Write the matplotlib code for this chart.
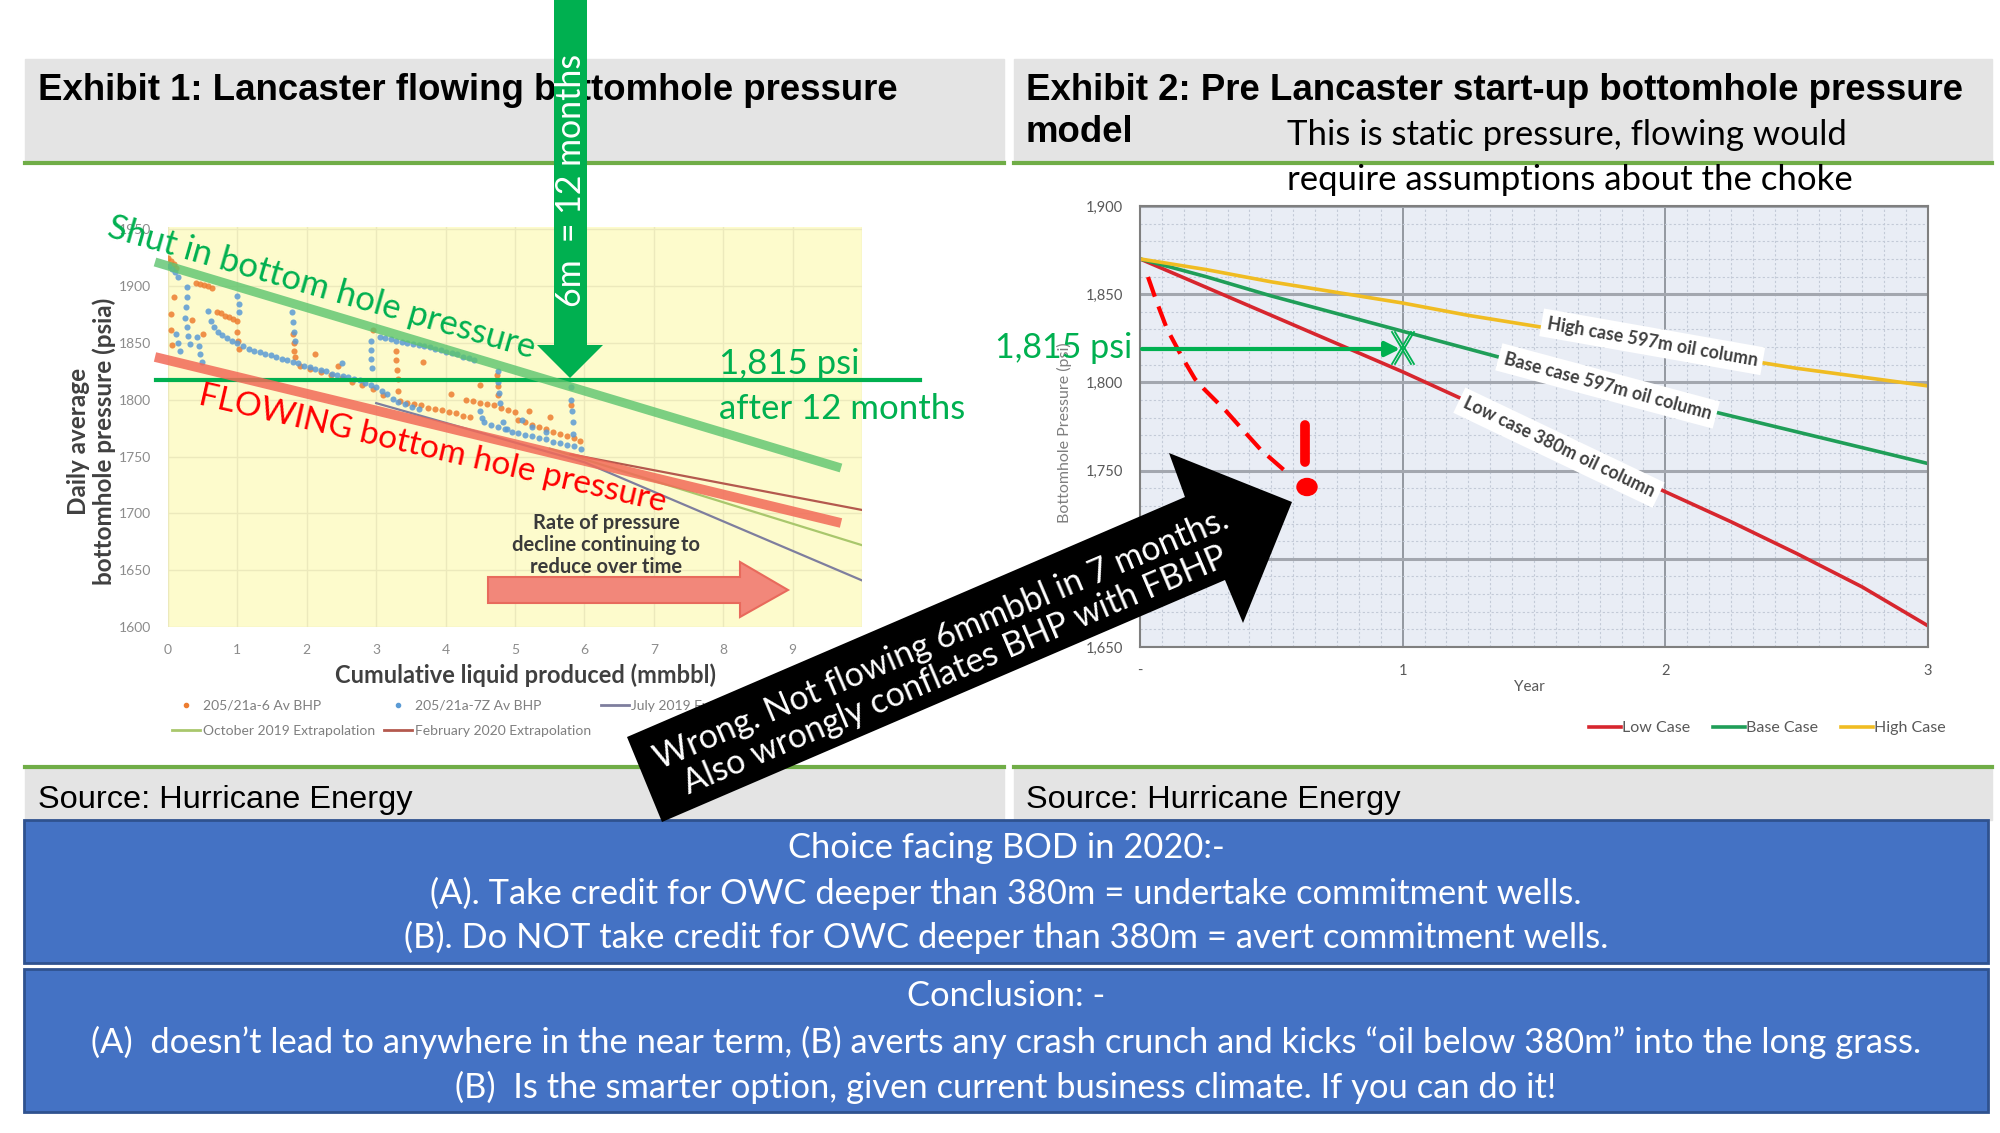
import matplotlib.pyplot as plt
from matplotlib.lines import Line2D
from matplotlib.patches import Rectangle, Polygon, Ellipse

W, H = 2000, 1133
CAL = ["Lato", "DejaVu Sans"]
ARL = ["Liberation Sans", "DejaVu Sans"]
plt.rcParams["font.family"] = CAL

# ---------------- Exhibit 1 data (cumulative mmbbl, psia) ----------------
well6_x = [0.00, 0.04, 0.08, 0.12, 0.40, 0.46, 0.52, 0.58, 0.64,
           0.08, 0.05, 0.04, 0.06, 0.35, 0.50,
           0.70, 0.76, 0.82, 0.88, 0.94, 1.00, 1.00, 1.01, 1.02,
           1.80, 1.81, 1.82, 1.83, 2.12, 2.96, 2.45,
           1.90, 2.05, 2.20, 2.35, 2.50, 2.65, 2.80, 2.95, 3.10,
           3.28, 3.29, 3.30, 3.31, 3.32, 3.68,
           3.35, 3.45, 3.55, 3.65, 3.75, 3.85, 3.95, 4.05, 4.15, 4.25, 4.35,
           4.08, 4.50, 4.30, 4.40, 4.50, 4.60, 4.70, 4.80, 4.90, 5.00,
           4.74, 4.75, 4.76,
           5.05, 5.15, 5.25, 5.35, 5.45, 5.55, 5.65, 5.75, 5.85, 5.94,
           5.80, 5.20, 5.50]
well6_p = [1925, 1922, 1919, 1916, 1903, 1902, 1901, 1900, 1898,
           1890, 1875, 1861, 1848, 1870, 1858,
           1877, 1876, 1874, 1873, 1871, 1869, 1860, 1852, 1845,
           1858, 1850, 1843, 1838, 1840, 1861, 1830,
           1830, 1827, 1824, 1822, 1819, 1816, 1813, 1809, 1804,
           1843, 1835, 1826, 1818, 1808, 1833,
           1799, 1797, 1796, 1795, 1793, 1792, 1791, 1789, 1788, 1786, 1785,
           1805, 1813, 1800, 1799, 1797, 1796, 1795, 1793, 1791, 1789,
           1822, 1812, 1804,
           1782, 1780, 1778, 1776, 1774, 1772, 1770, 1768, 1766, 1764,
           1795, 1790, 1785]

well7z_x = [0.02, 0.06, 0.10, 0.14, 0.12, 0.15, 0.17,
            0.27, 0.28, 0.26, 0.25, 0.27, 0.29, 0.31,
            0.42, 0.44, 0.46, 0.49, 1.00, 1.02, 1.03,
            0.58, 0.62, 0.66, 0.72, 0.78, 0.85, 0.92, 1.00, 1.08, 1.16,
            1.24, 1.32, 1.40, 1.48, 1.56, 1.64, 1.72, 1.80, 1.88, 1.96,
            2.04, 2.12, 2.20, 2.28, 2.36, 2.44, 2.52, 2.60, 2.68, 2.76,
            2.84, 2.92, 3.00, 3.08, 3.16, 3.24, 3.32, 3.42, 3.52, 3.62,
            1.79, 1.80, 1.82, 1.83, 2.50, 2.92, 2.93, 2.93, 2.94,
            3.05, 3.13, 3.21, 3.29, 3.37, 3.45, 3.53, 3.61, 3.69, 3.77,
            3.85, 3.93, 4.01, 4.09, 4.17, 4.25, 4.33, 4.41,
            4.75, 4.76, 4.77, 4.78, 4.50, 4.52, 4.83, 4.88, 5.10, 5.25, 5.45,
            5.80, 5.81, 5.82, 5.83, 5.84,
            4.55, 4.65, 4.75, 4.85, 4.95, 5.05, 5.15, 5.25, 5.35, 5.45,
            5.55, 5.65, 5.75, 5.85, 5.95]
well7z_p = [1918, 1915, 1912, 1908, 1858, 1850, 1843,
            1899, 1890, 1882, 1872, 1864, 1856, 1849,
            1855, 1847, 1840, 1833, 1891, 1884, 1877,
            1878, 1869, 1864, 1860, 1857, 1854, 1852, 1850, 1847, 1845,
            1843, 1842, 1840, 1839, 1838, 1836, 1835, 1833, 1832, 1830,
            1829, 1827, 1826, 1825, 1823, 1822, 1821, 1820, 1818, 1817,
            1815, 1813, 1811, 1808, 1805, 1801, 1798, 1796, 1794, 1792,
            1877, 1868, 1860, 1852, 1832, 1852, 1844, 1836, 1828,
            1855, 1854, 1853, 1852, 1851, 1850, 1849, 1848, 1847, 1846,
            1845, 1844, 1842, 1841, 1840, 1838, 1837, 1835,
            1825, 1816, 1806, 1797, 1790, 1784, 1780, 1774, 1782, 1776, 1772,
            1811, 1800, 1790, 1780, 1770,
            1780, 1778, 1776, 1774, 1772, 1771, 1769, 1768, 1766, 1765,
            1763, 1762, 1760, 1759, 1757]

jul19_x = [3.0, 6.0, 10.0]
jul19_p = [1797, 1745, 1641]
oct19_x = [5.5, 10.0]
oct19_p = [1757, 1672]
feb20_x = [5.8, 10.0]
feb20_p = [1752, 1703]

# ---------------- Exhibit 2 data (year, psi) ----------------
years = [0, 0.25, 0.5, 0.75, 1.0, 1.25, 1.5, 1.75, 2.0, 2.25, 2.5, 2.75, 3.0]
low_case = [1870, 1854, 1838, 1822, 1806, 1789, 1772, 1755, 1738, 1721, 1703, 1684, 1662]
base_case = [1870, 1860, 1849, 1839, 1829, 1819, 1809, 1800, 1790, 1781, 1772, 1763, 1754]
high_case = [1870, 1864, 1857, 1851, 1845, 1838, 1832, 1826, 1820, 1814, 1808, 1803, 1798]

GREEN = "#00B050"
fig = plt.figure(figsize=(W / 100, H / 100), dpi=100)


def px_axes(x0, y0, x1, y1):
    return fig.add_axes([x0 / W, 1 - y1 / H, (x1 - x0) / W, (y1 - y0) / H])


bg = px_axes(0, 0, W, H)
bg.set_xlim(0, W)
bg.set_ylim(H, 0)
bg.axis("off")

# header / footer bands
for x0, x1 in [(25, 1004), (1014, 1992)]:
    bg.add_patch(Rectangle((x0, 59), x1 - x0, 104, color="#E4E4E4"))
    bg.plot([x0, x1], [163, 163], color="#70AD47", lw=3)
    bg.add_patch(Rectangle((x0, 768), x1 - x0, 52, color="#E4E4E4"))
    bg.plot([x0, x1], [767, 767], color="#70AD47", lw=3)

bg.text(38, 90, "Exhibit 1: Lancaster flowing bottomhole pressure", family=ARL,
        weight="bold", fontsize=26.4, va="center")
bg.text(1026, 90, "Exhibit 2: Pre Lancaster start-up bottomhole pressure", family=ARL,
        weight="bold", fontsize=26.4, va="center")
bg.text(1026, 133, "model", family=ARL, weight="bold", fontsize=26.4, va="center")
bg.text(38, 800, "Source: Hurricane Energy", family=ARL, fontsize=23.4, va="center")
bg.text(1026, 800, "Source: Hurricane Energy", family=ARL, fontsize=23.4, va="center")

# blue conclusion boxes
box1 = ["Choice facing BOD in 2020:-",
        "(A). Take credit for OWC deeper than 380m = undertake commitment wells.",
        "(B). Do NOT take credit for OWC deeper than 380m = avert commitment wells."]
box2 = ["Conclusion: -",
        "(A)  doesn\u2019t lead to anywhere in the near term, (B) averts any crash crunch and kicks "
        "\u201coil below 380m\u201d into the long grass.",
        "(B)  Is the smarter option, given current business climate. If you can do it!"]
for top, lines, ys in [(820, box1, [848, 893, 937]), (969, box2, [996, 1042, 1087])]:
    bg.add_patch(Rectangle((24, top), 1964, 143, facecolor="#4472C4",
                           edgecolor="#2F528F", lw=2))
    for s, y in zip(lines, ys):
        bg.text(1006, y, s, color="white", fontsize=24.8, ha="center", va="center")

# ---------------- Exhibit 1 chart ----------------
ax1 = px_axes(168, 227, 862, 627)
ax1.set_facecolor("#FDFBCC")
ax1.plot(well6_x, well6_p, "o", ms=4.4, color="#ED7D31", mec="none", alpha=0.85)
ax1.plot(well7z_x, well7z_p, "o", ms=4.4, color="#5B9BD5", mec="none", alpha=0.85)
ax1.plot(jul19_x, jul19_p, color="#7E7E9E", lw=1.6)
ax1.plot(oct19_x, oct19_p, color="#A9C76C", lw=1.6)
ax1.plot(feb20_x, feb20_p, color="#B4594E", lw=1.6)
ax1.set_xlim(0, 10)
ax1.set_ylim(1600, 1952)
ax1.set_xticks(range(0, 11))
ax1.set_yticks(range(1600, 1951, 50))
ax1.grid(color="#ECE9BC", lw=1)
ax1.set_axisbelow(True)
for sp in ax1.spines.values():
    sp.set_visible(False)
ax1.tick_params(length=0, labelsize=10, labelcolor="#8C8C8C", pad=12)
ax1.text(-0.11, 0.465, "Daily average\nbottomhole pressure (psia)", transform=ax1.transAxes,
         rotation=90, ha="center", va="center", weight="bold",
         fontsize=17.5, color="#404040", linespacing=1.15)
ax1.text(0.515, -0.12, "Cumulative liquid produced (mmbbl)", transform=ax1.transAxes,
         ha="center", va="center", weight="bold", fontsize=17, color="#404040")
hs = [Line2D([], [], marker="o", ls="none", ms=3, color="#ED7D31"),
      Line2D([], [], color="#A9C76C", lw=2),
      Line2D([], [], marker="o", ls="none", ms=3, color="#5B9BD5"),
      Line2D([], [], color="#B4594E", lw=2),
      Line2D([], [], color="#7E7E9E", lw=2)]
labs = ["205/21a-6 Av BHP", "October 2019 Extrapolation", "205/21a-7Z Av BHP",
        "February 2020 Extrapolation", "July 2019 Extrapolation"]
ax1.legend(hs, labs, ncol=3, loc="upper left", bbox_to_anchor=(172 / W, 1 - 700 / H),
           bbox_transform=fig.transFigure, frameon=False, fontsize=10,
           labelcolor="#7F7F7F", handlelength=2.0, handletextpad=0.2,
           columnspacing=0.7, labelspacing=0.95, borderpad=0, borderaxespad=0)

# ---------------- Exhibit 2 chart ----------------
ax2 = px_axes(1140, 206, 1928, 647)
ax2.set_facecolor("#E9EDF5")
ax2.plot(years, low_case, color="#D7262E", lw=2.6, label="Low Case")
ax2.plot(years, base_case, color="#1F9E58", lw=2.6, label="Base Case")
ax2.plot(years, high_case, color="#F0BC22", lw=2.6, label="High Case")
ax2.set_xlim(0, 3)
ax2.set_ylim(1650, 1900)
ax2.set_xticks([0, 1, 2, 3], ["-", "1", "2", "3"])
ax2.set_yticks(range(1650, 1901, 50), ["1,650", "1,700", "1,750", "1,800", "1,850", "1,900"])
ax2.set_xticks([i / 12 for i in range(37)], minor=True)
ax2.set_yticks(range(1650, 1901, 10), minor=True)
ax2.grid(which="minor", color="#C3CAD7", lw=0.8, ls=(0, (2, 2)))
ax2.grid(which="major", axis="y", color="#A3A7AF", lw=2.2)
ax2.grid(which="major", axis="x", color="#858A92", lw=1.2)
ax2.set_axisbelow(True)
for sp in ax2.spines.values():
    sp.set_color("#7F7F7F")
    sp.set_linewidth(1.5)
ax2.tick_params(which="both", length=0, labelsize=10.5, labelcolor="#595959", pad=12)
ax2.text(-0.096, 0.485, "Bottomhole Pressure (psi)", transform=ax2.transAxes, rotation=90,
         ha="center", va="center", fontsize=11.5, color="#7F7F7F")
ax2.text(0.494, -0.09, "Year", transform=ax2.transAxes, ha="center", va="center",
         fontsize=11, color="#595959")
for x, y, s, rot in [(1.95, 1823, "High case 597m oil column", -10),
                     (1.78, 1798, "Base case 597m oil column", -15),
                     (1.595, 1763, "Low case 380m oil column", -25.5)]:
    ax2.text(x, y, s, rotation=rot, rotation_mode="anchor", ha="center", va="center",
             weight="bold", fontsize=12.8, color="#3F3F3F",
             bbox=dict(facecolor="white", edgecolor="none", pad=4))
ax2.legend(loc="center right", bbox_to_anchor=(1946 / W, 1 - 728 / H),
           bbox_transform=fig.transFigure, ncol=3, frameon=False, fontsize=11.5,
           labelcolor="#595959", handlelength=2.0, handletextpad=0.1,
           columnspacing=1.4, borderpad=0, borderaxespad=0)

# ---------------- annotations on top ----------------
fg = px_axes(0, 0, W, H)
fg.set_xlim(0, W)
fg.set_ylim(H, 0)
fg.axis("off")

# green "6m = 12 months" arrow
fg.add_patch(Polygon([(554, 0), (587, 0), (587, 345), (603, 345), (570, 378),
                      (537, 345), (554, 345)], closed=True, color=GREEN, lw=0))
fg.text(571, 180, "6m  = 12 months", rotation=90, color="white", fontsize=24.4,
        ha="center", va="center")
fg.plot([156, 920], [380, 380], color=GREEN, lw=3)
fg.plot([155, 841], [262, 468], color="#5CC46E", lw=6.5, alpha=0.8, solid_capstyle="butt")
fg.plot([155, 841], [357, 523], color="#F26A58", lw=7, alpha=0.85, solid_capstyle="butt")
fg.text(106, 236, "Shut in bottom hole pressure", color=GREEN, fontsize=25,
        rotation=-16, rotation_mode="anchor", ha="left", va="baseline")
fg.text(197, 404, "FLOWING bottom hole pressure", color="#FF0000", fontsize=24,
        rotation=-13, rotation_mode="anchor", ha="left", va="baseline")
fg.text(719, 364, "1,815 psi", color=GREEN, fontsize=25, va="center")
fg.text(719, 409, "after 12 months", color=GREEN, fontsize=25, va="center")

# in-chart note and block arrow of exhibit 1
fg.text(606, 545, "Rate of pressure\ndecline continuing to\nreduce over time", ha="center",
        va="center", weight="bold", fontsize=14.5, color="#3A3A3A", linespacing=1.15)
fg.add_patch(Polygon([(488, 577), (740, 577), (740, 562), (788, 590), (740, 617),
                      (740, 603), (488, 603)], closed=True, facecolor="#F2877A",
                     edgecolor="#E86A5C", lw=1.5))

# exhibit 2 notes
fg.text(1287, 135, "This is static pressure, flowing would", fontsize=25, va="center")
fg.text(1287, 180, "require assumptions about the choke", fontsize=25, va="center")
fg.text(995, 348, "1,815 psi", color=GREEN, fontsize=24.5, va="center")
fg.annotate("", xy=(1400, 349), xytext=(1142, 349),
            arrowprops=dict(arrowstyle="-|>", color=GREEN, lw=3, mutation_scale=22,
                            shrinkA=0, shrinkB=0))
for dx in (0, 3):
    fg.plot([1392 + dx, 1411 + dx], [332, 364], color=GREEN, lw=1.3)
    fg.plot([1411 + dx, 1392 + dx], [332, 364], color=GREEN, lw=1.3)
fg.plot([1148, 1156, 1167, 1182, 1195, 1204, 1226, 1242, 1261, 1284],
        [277, 300, 329, 357, 379, 389, 411, 429, 450, 470],
        color="#FF0000", lw=3, ls=(0, (5, 2.5)))
fg.plot([1305, 1305], [425, 462], color="#FF0000", lw=7, solid_capstyle="round")
fg.add_patch(Ellipse((1307, 487), 20, 17, color="#FF0000"))

# black "Wrong" arrow
fg.add_patch(Polygon([(627, 737), (1185, 497), (1169, 453), (1292, 502), (1243, 623),
                      (1225, 580), (662, 822)], closed=True, color="black", lw=0))
fg.text(948, 655, "Wrong. Not flowing 6mmbbl in 7 months.\nAlso wrongly conflates BHP with FBHP",
        rotation=23, rotation_mode="anchor", ha="center", va="center", color="white",
        fontsize=24.5, linespacing=1.1)

fig.savefig("out.png", dpi=100)
